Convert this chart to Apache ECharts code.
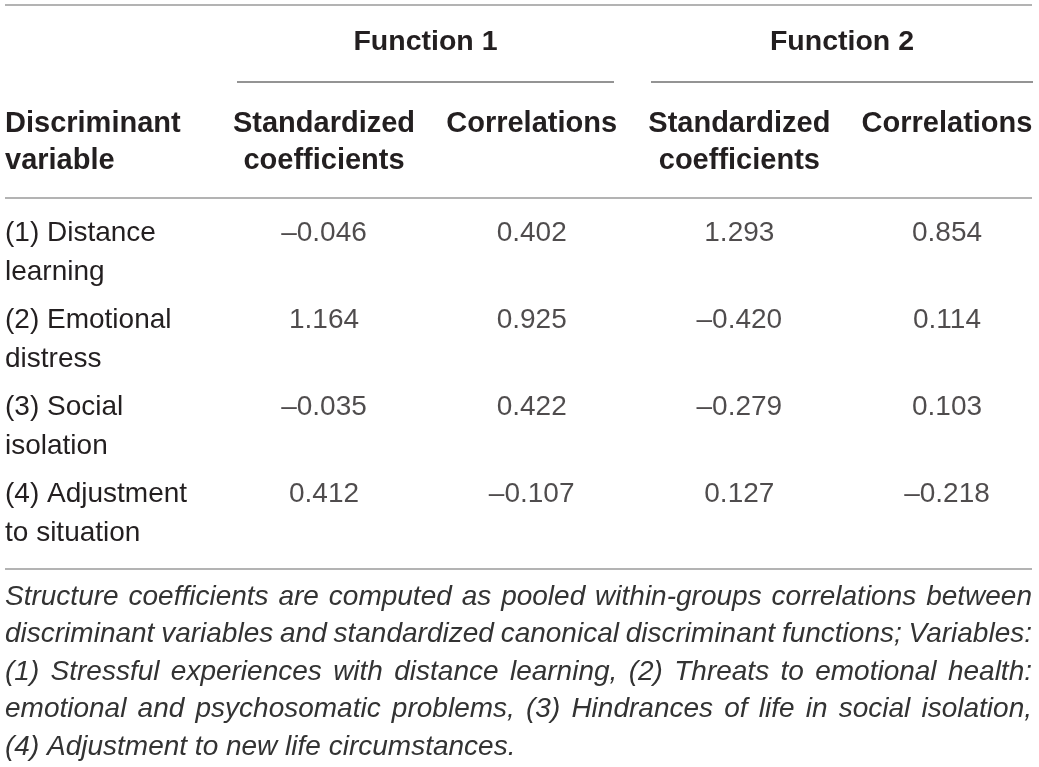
<!DOCTYPE html>
<html>
<head>
<meta charset="utf-8">
<title>Discriminant functions</title>
<script src="https://cdn.jsdelivr.net/npm/echarts@6/dist/echarts.min.js"></script>
<style>
  html, body { margin: 0; padding: 0; background: #fff; }
  #main { width: 1039px; height: 767px; }
</style>
</head>
<body>
<div id="main"></div>
<script>
var columns = ['Standardized\ncoefficients', 'Correlations', 'Standardized\ncoefficients', 'Correlations'];
var variables = ['(1) Distance\nlearning', '(2) Emotional\ndistress', '(3) Social\nisolation', '(4) Adjustment\nto situation'];
var groups = ['Function 1', 'Function 2'];
var f1Std = [-0.046, 1.164, -0.035, 0.412];
var f1Corr = [0.402, 0.925, 0.422, -0.107];
var f2Std = [1.293, -0.420, -0.279, 0.127];
var f2Corr = [0.854, 0.114, 0.103, -0.218];
var notes = [
    'Structure coefficients are computed as pooled within-groups correlations between',
    'discriminant variables and standardized canonical discriminant functions; Variables:',
    '(1) Stressful experiences with distance learning, (2) Threats to emotional health:',
    'emotional and psychosomatic problems, (3) Hindrances of life in social isolation,',
    '(4) Adjustment to new life circumstances.'
];

var FONT = "'Liberation Sans', Helvetica, Arial, sans-serif";
var INK = '#231f20';

function fmt(v) {
    // 负数用短横线显示
    return v < 0 ? '\u2013' + Math.abs(v).toFixed(3) : v.toFixed(3);
}

function buildCells() {
    var cols = [f1Std, f1Corr, f2Std, f2Corr];
    var out = [];
    for (var c = 0; c < cols.length; c++) {
        for (var r = 0; r < cols[c].length; r++) {
            out.push([c, r, cols[c][r]]);
        }
    }
    return out;
}

function rule(x1, x2, y, color) {
    return {
        type: 'line',
        shape: { x1: x1, y1: y, x2: x2, y2: y },
        style: { stroke: color, lineWidth: 1.5 }
    };
}

// 脚注两端对齐
function noteGraphics() {
    var left = 5, right = 1032, top = 597, step = 37.5;
    var font = 'italic 28px ' + FONT;
    var ctx = document.createElement('canvas').getContext('2d');
    ctx.font = font;
    var items = [];
    notes.forEach(function (line, i) {
        var y = top + i * step;
        var words = line.split(' ');
        var last = i === notes.length - 1;
        var widths = words.map(function (w) { return ctx.measureText(w).width; });
        var total = widths.reduce(function (a, b) { return a + b; }, 0);
        var gap = last ? ctx.measureText(' ').width : (right - left - total) / (words.length - 1);
        var x = left;
        words.forEach(function (w, k) {
            items.push({
                type: 'text',
                style: {
                    x: x, y: y, text: w, font: font, fill: '#333',
                    textAlign: 'left', textVerticalAlign: 'middle'
                }
            });
            x += widths[k] + gap;
        });
    });
    return items;
}

function showTable() {
    var myChart = echarts.init(document.getElementById('main'));
    var graphics = [
        rule(5, 1032, 5, '#9a9a9a'),
        rule(237, 614, 82, '#707070'),
        rule(651, 1033, 82, '#707070'),
        rule(5, 1032, 198, '#9a9a9a'),
        rule(5, 1032, 569, '#9a9a9a'),
        {
            type: 'text',
            style: { x: 425.5, y: 42, text: groups[0], font: 'bold 28.5px ' + FONT, fill: INK,
                textAlign: 'center', textVerticalAlign: 'middle' }
        },
        {
            type: 'text',
            style: { x: 842, y: 42, text: groups[1], font: 'bold 28.5px ' + FONT, fill: INK,
                textAlign: 'center', textVerticalAlign: 'middle' }
        },
        {
            type: 'text',
            style: { x: 5, y: 105.5, text: 'Discriminant\nvariable', font: 'bold 29px ' + FONT,
                lineHeight: 37, fill: INK, textAlign: 'left', textVerticalAlign: 'top' }
        }
    ].concat(noteGraphics());

    var option = {
        animation: false,
        grid: { left: 324, right: 92, top: 213.5, bottom: 292.5 },
        xAxis: {
            type: 'category',
            position: 'top',
            boundaryGap: false,
            data: columns,
            axisLine: { show: false },
            axisTick: { show: false },
            splitLine: { show: false },
            axisLabel: {
                interval: 0,
                margin: 108,
                verticalAlign: 'top',
                align: 'center',
                fontFamily: FONT,
                fontWeight: 'bold',
                fontSize: 29,
                lineHeight: 37,
                color: INK
            }
        },
        yAxis: {
            type: 'category',
            inverse: true,
            boundaryGap: false,
            data: variables,
            axisLine: { show: false },
            axisTick: { show: false },
            splitLine: { show: false },
            axisLabel: {
                interval: 0,
                margin: 319,
                align: 'left',
                verticalAlign: 'top',
                fontFamily: FONT,
                fontSize: 28,
                lineHeight: 39,
                color: INK
            }
        },
        series: [{
            type: 'scatter',
            symbolSize: 1,
            itemStyle: { color: 'rgba(0,0,0,0)' },
            data: buildCells(),
            label: {
                show: true,
                position: 'inside',
                align: 'center',
                verticalAlign: 'top',
                fontFamily: FONT,
                fontSize: 28,
                lineHeight: 39,
                color: INK,
                formatter: function (p) { return fmt(p.value[2]); }
            }
        }],
        graphic: graphics
    };
    myChart.setOption(option);
}

showTable();
</script>
</body>
</html>
